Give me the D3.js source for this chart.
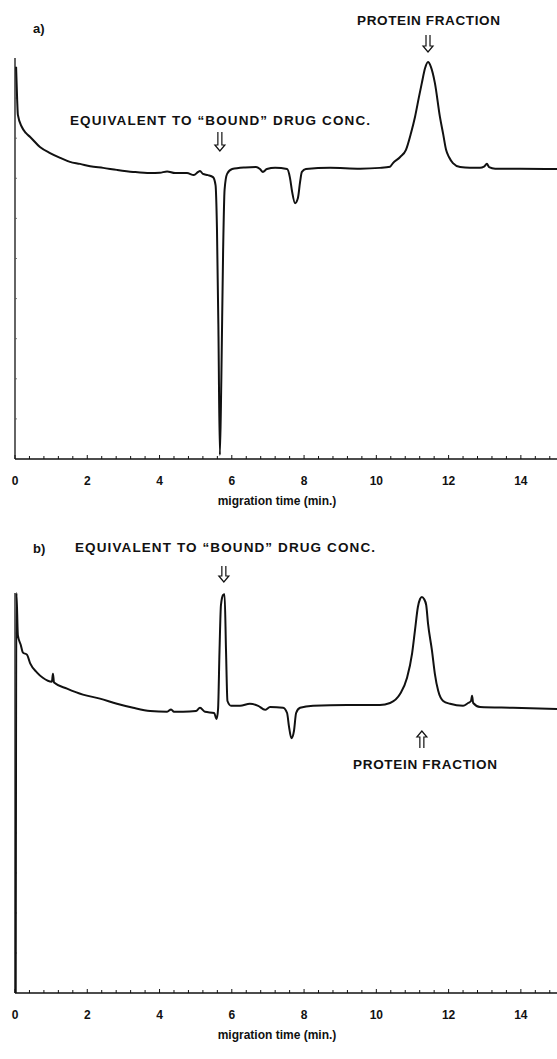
<!DOCTYPE html>
<html>
<head>
<meta charset="utf-8">
<script src="https://cdn.jsdelivr.net/npm/d3@7"></script>
<style>
  body { margin: 0; background: #fff; }
  svg { display: block; }
  text { font-family: "Liberation Sans", Arial, sans-serif; font-weight: bold; fill: #111; }
</style>
</head>
<body>
<svg id="chart" width="557" height="1059"></svg>
<script>
// electropherogram a) - migration time (min) and detector signal (arbitrary units)
const timeA = [0.03, 0.06, 0.08, 0.19, 0.30, 0.42, 0.69, 0.97, 1.25, 1.52, 1.80, 2.08, 2.44, 2.82, 3.27, 3.74,
  4.01, 4.21, 4.43, 4.76, 4.95, 5.07, 5.12, 5.20, 5.34, 5.48, 5.55, 5.59, 5.63, 5.67, 5.71, 5.76, 5.80, 5.87,
  6.01, 6.37, 6.67, 6.78, 6.86, 6.97, 7.20, 7.53, 7.61, 7.67, 7.75, 7.83, 7.89, 7.94, 8.05, 8.72, 9.55, 10.10,
  10.38, 10.46, 10.66, 10.82, 10.96, 11.07, 11.18, 11.26, 11.35, 11.43, 11.51, 11.62, 11.76, 11.85, 11.93,
  12.01, 12.12, 12.32, 12.59, 12.87, 12.98, 13.06, 13.12, 13.29, 13.98, 15.0];
const signalA = [97.8, 89.5, 85.8, 82.8, 81.3, 80.3, 77.8, 76.3, 75.1, 74.1, 73.6, 73.0, 72.6, 72.1, 71.6, 71.3,
  71.4, 71.7, 71.3, 71.3, 70.8, 71.6, 71.8, 71.1, 70.8, 70.3, 68.3, 57.1, 32.2, 1.0, 19.7, 52.1, 67.1, 71.1,
  72.3, 72.7, 72.8, 72.3, 71.6, 72.3, 72.6, 72.3, 70.1, 66.6, 63.8, 65.1, 69.1, 71.6, 72.3, 72.6, 72.4, 72.6,
  72.9, 73.8, 75.3, 77.1, 81.3, 85.3, 90.3, 93.8, 97.5, 99.0, 97.8, 93.8, 85.3, 81.0, 77.1,
  75.3, 73.8, 72.8, 72.6, 72.6, 72.9, 73.6, 72.8, 72.4, 72.4, 72.3];

// electropherogram b)
const timeB = [0.02, 0.04, 0.08, 0.16, 0.22, 0.33, 0.42, 0.61, 0.77, 1.02, 1.05, 1.08, 1.44, 1.88, 2.35, 2.82,
  3.27, 3.74, 4.21, 4.32, 4.40, 4.65, 5.01, 5.12, 5.26, 5.51, 5.58, 5.62, 5.66, 5.70, 5.76, 5.80, 5.84, 5.88,
  5.98, 6.23, 6.50, 6.73, 6.92, 7.06, 7.42, 7.53, 7.58, 7.65, 7.72, 7.78, 7.89, 8.25, 9.19, 10.10, 10.38,
  10.66, 10.85, 10.99, 11.07, 11.15, 11.21, 11.26, 11.32, 11.38, 11.43, 11.54, 11.62, 11.71, 11.85, 12.04,
  12.40, 12.54, 12.62, 12.65, 12.68, 12.87, 13.78, 15.0];
const signalB = [0, 100, 89.4, 87.0, 85.1, 84.6, 82.4, 80.1, 78.8, 77.8, 79.8, 77.6, 76.1, 74.6, 73.6, 72.3,
  71.3, 70.5, 70.3, 70.9, 70.3, 70.3, 70.5, 71.3, 70.3, 70.0, 68.5, 71.0, 85.6, 97.0, 99.5, 99.7, 85.6, 73.0,
  71.8, 71.8, 72.3, 71.8, 70.8, 71.5, 71.3, 70.0, 66.8, 63.7, 65.5, 70.0, 71.3, 71.8, 72.0, 72.0, 72.5,
  74.8, 78.8, 84.9, 90.7, 96.5, 98.5, 99.0, 98.5, 97.0, 92.4, 85.6, 79.8, 75.6, 73.0, 72.3,
  71.8, 72.5, 73.0, 74.3, 72.5, 71.5, 71.3, 71.0];

const tickLabels = [0, 2, 4, 6, 8, 10, 12, 14];
const xLabel = "migration time (min.)";
const boundLabel = "EQUIVALENT TO \u201CBOUND\u201D DRUG CONC.";
const proteinLabel = "PROTEIN FRACTION";

const svg = d3.select("#chart");

const x = d3.scaleLinear().domain([0, 15]).range([15, 557]);

function drawPanel(opts) {
  const { time, signal, top, bottom, tag, tagY } = opts;
  const y = d3.scaleLinear().domain([0, 100]).range([bottom, top]);
  const g = svg.append("g");

  // x axis, ticks point up into the plot
  const minor = d3.range(0, 15, 0.4);
  g.append("line")
    .attr("x1", x(0)).attr("x2", 557)
    .attr("y1", bottom).attr("y2", bottom)
    .attr("stroke", "#111").attr("stroke-width", 1.3);
  g.selectAll(".tk")
    .data(minor)
    .enter()
    .append("line")
    .attr("x1", (d) => x(d)).attr("x2", (d) => x(d))
    .attr("y1", bottom)
    .attr("y2", (d) => bottom - (Math.abs(d / 2 - Math.round(d / 2)) < 0.01 ? 4 : 3))
    .attr("stroke", "#111").attr("stroke-width", 1);

  g.selectAll(".tl")
    .data(tickLabels)
    .enter()
    .append("text")
    .attr("x", (d) => x(d))
    .attr("y", bottom + 26)
    .attr("text-anchor", "middle")
    .attr("font-size", 12)
    .text((d) => d);

  g.append("text")
    .attr("x", 277).attr("y", bottom + 46)
    .attr("text-anchor", "middle")
    .attr("font-size", 12)
    .text(xLabel);

  // y axis line with faint ticks
  g.append("line")
    .attr("x1", x(0)).attr("x2", x(0))
    .attr("y1", top).attr("y2", bottom)
    .attr("stroke", "#111").attr("stroke-width", 1.3);
  g.selectAll(".yt")
    .data(d3.range(10, 100, 10))
    .enter()
    .append("line")
    .attr("x1", x(0)).attr("x2", x(0) + 2)
    .attr("y1", (d) => y(d)).attr("y2", (d) => y(d))
    .attr("stroke", "#555").attr("stroke-width", 0.8);

  const line = d3.line()
    .x((d, i) => x(time[i]))
    .y((d) => y(d))
    .curve(d3.curveMonotoneX);

  g.append("path")
    .datum(signal)
    .attr("d", line)
    .attr("fill", "none")
    .attr("stroke", "#111")
    .attr("stroke-width", 2)
    .attr("stroke-linejoin", "round");

  g.append("text")
    .attr("x", 33).attr("y", tagY)
    .attr("font-size", 13)
    .text(tag);

  return { g, y };
}

function arrow(g, cx, y0, y1) {
  // hollow double arrow, head at y1
  const dir = y1 > y0 ? 1 : -1;
  const p = d3.path();
  p.moveTo(cx - 2, y0);
  p.lineTo(cx - 2, y1 - dir * 6);
  p.lineTo(cx - 5, y1 - dir * 6);
  p.lineTo(cx, y1);
  p.lineTo(cx + 5, y1 - dir * 6);
  p.lineTo(cx + 2, y1 - dir * 6);
  p.lineTo(cx + 2, y0);
  g.append("path")
    .attr("d", p.toString())
    .attr("fill", "none")
    .attr("stroke", "#111")
    .attr("stroke-width", 1.2);
}

function label(g, txt, x0, x1, yb) {
  g.append("text")
    .attr("x", x0).attr("y", yb)
    .attr("font-size", 13.5)
    .attr("textLength", x1 - x0)
    .attr("lengthAdjust", "spacing")
    .text(txt);
}

// panel a
const a = drawPanel({ time: timeA, signal: signalA, top: 58, bottom: 459, tag: "a)", tagY: 33 });
label(a.g, proteinLabel, 357, 500, 25);
arrow(a.g, x(11.43), 35, 52);
label(a.g, boundLabel, 70, 370, 125);
arrow(a.g, x(5.67), 132, 151);

// panel b
const b = drawPanel({ time: timeB, signal: signalB, top: 593, bottom: 993, tag: "b)", tagY: 553 });
label(b.g, boundLabel, 75, 375, 552);
arrow(b.g, x(5.78), 566, 582);
arrow(b.g, x(11.26), 748, 731);
label(b.g, proteinLabel, 353, 497, 769);
</script>
</body>
</html>
